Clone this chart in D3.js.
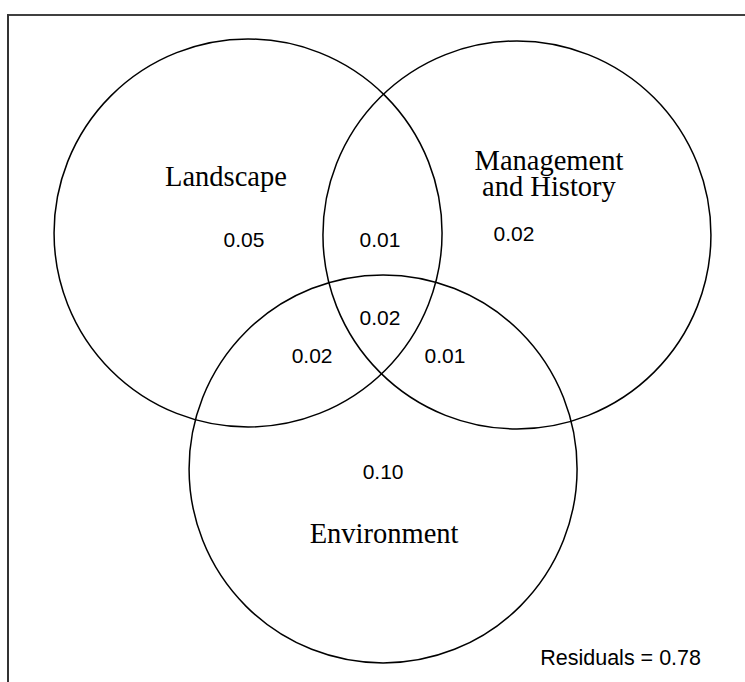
<!DOCTYPE html>
<html>
<head>
<meta charset="utf-8">
<script src="https://cdn.jsdelivr.net/npm/d3@7"></script>
<style>
  body { margin: 0; background: #fff; }
  svg { display: block; }
</style>
</head>
<body>
<div id="chart"></div>
<script>
// variance partitioning (Venn)
const setNames = ["Landscape", "Management and History", "Environment"];
const setLabelLines = [["Landscape"], ["Management", "and History"], ["Environment"]];
const regionKeys = ["L", "LM", "M", "LME", "LE", "ME", "E"];
const regionValues = [0.05, 0.01, 0.02, 0.02, 0.02, 0.01, 0.10];
const residuals = 0.78;

// layout of the diagram in circle-radius units (y down)
const circleCenters = [[-0.693, -0.005], [0.693, 0.005], [0.003, 1.211]];
const regionSpots = {
    L: [-0.714, 0.031], LM: [-0.013, 0.031], M: [0.678, 0.0],
    LME: [-0.013, 0.433], LE: [-0.363, 0.629], ME: [0.322, 0.629],
    E: [0.003, 1.227]
};
const labelSpots = [[-0.807, -0.245], [0.858, -0.33], [0.008, 1.595]];

const W = 745, H = 682;
const R = 194;                 // radius in px
const ox = 382.5, oy = 234;    // diagram origin

const x = d3.scaleLinear().domain([0, 1]).range([ox, ox + R]);
const y = d3.scaleLinear().domain([0, 1]).range([oy, oy + R]);

const svg = d3.select("#chart").append("svg")
    .attr("width", W)
    .attr("height", H);

// frame (top + left only)
svg.append("line")
    .attr("x1", 7).attr("x2", W)
    .attr("y1", 15).attr("y2", 15)
    .attr("stroke", "#000").attr("stroke-width", 1.5);
svg.append("line")
    .attr("x1", 8).attr("x2", 8)
    .attr("y1", 14.3).attr("y2", H)
    .attr("stroke", "#333").attr("stroke-width", 2);

// circles
svg.append("g")
    .selectAll("circle")
    .data(setNames)
    .enter().append("circle")
        .attr("cx", (d, i) => x(circleCenters[i][0]))
        .attr("cy", (d, i) => y(circleCenters[i][1]))
        .attr("r", x(1) - x(0))
        .attr("fill", "none")
        .attr("stroke", "#000")
        .attr("stroke-width", 1.5);

// set names
const names = svg.append("g")
    .selectAll("text")
    .data(setLabelLines)
    .enter().append("text")
        .attr("x", (d, i) => x(labelSpots[i][0]))
        .attr("y", (d, i) => y(labelSpots[i][1]))
        .attr("text-anchor", "middle")
        .style("font-family", "'Liberation Serif', 'Times New Roman', serif")
        .style("font-size", "28.5px")
        .attr("fill", "#000");
names.selectAll("tspan")
    .data(d => d)
    .enter().append("tspan")
        .attr("x", function() { return this.parentNode.getAttribute("x"); })
        .attr("dy", (d, i) => i === 0 ? 0 : 26.5)
        .text(d => d);

// region values
svg.append("g")
    .selectAll("text")
    .data(regionKeys)
    .enter().append("text")
        .attr("x", d => x(regionSpots[d][0]))
        .attr("y", d => y(regionSpots[d][1]))
        .attr("dy", "0.35em")
        .attr("text-anchor", "middle")
        .style("font-family", "'Liberation Sans', Arial, sans-serif")
        .style("font-size", "21px")
        .attr("fill", "#000")
        .text((d, i) => d3.format(".2f")(regionValues[i]));

svg.append("text")
    .attr("x", 701)
    .attr("y", 665)
    .attr("text-anchor", "end")
    .style("font-family", "'Liberation Sans', Arial, sans-serif")
    .style("font-size", "21.5px")
    .text("Residuals = " + d3.format(".2f")(residuals));
</script>
</body>
</html>
